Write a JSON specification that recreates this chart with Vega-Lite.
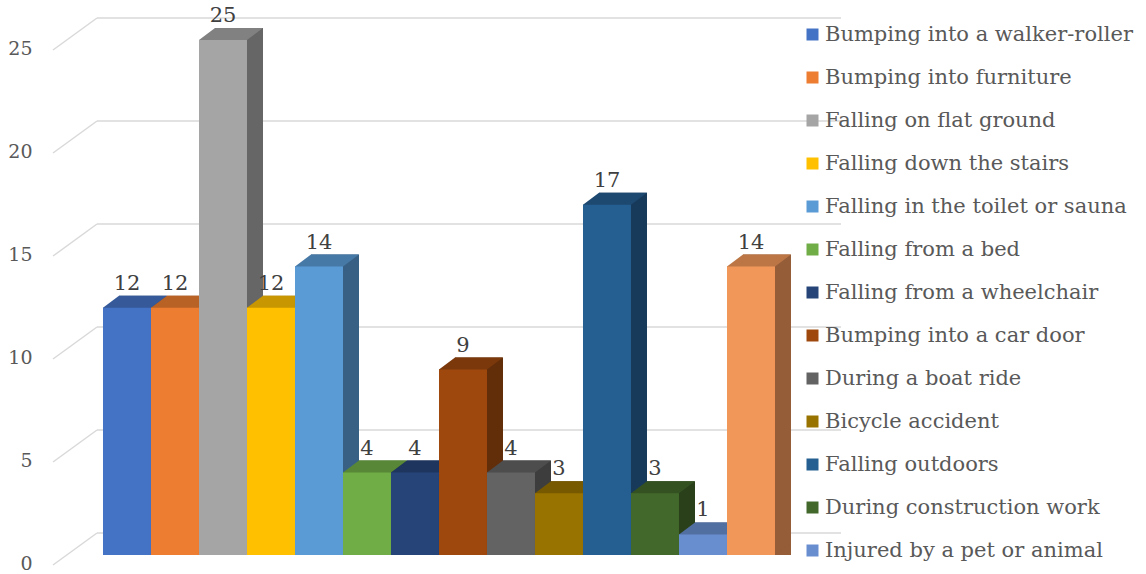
{
  "$schema": "https://vega.github.io/schema/vega-lite/v6.json",
  "width": 744,
  "height": 515,
  "autosize": {"type": "none"},
  "padding": {"left": 97, "top": 40, "right": 305, "bottom": 19},
  "background": "white",
  "config": {"view": {"stroke": null}, "font": "DejaVu Serif"},
  "datasets": {
    "falls": [
      {"cat": "Bumping into a walker-roller", "n": 12},
      {"cat": "Bumping into furniture", "n": 12},
      {"cat": "Falling on flat ground", "n": 25},
      {"cat": "Falling down the stairs", "n": 12},
      {"cat": "Falling in the toilet or sauna", "n": 14},
      {"cat": "Falling from a bed", "n": 4},
      {"cat": "Falling from a wheelchair", "n": 4},
      {"cat": "Bumping into a car door", "n": 9},
      {"cat": "During a boat ride", "n": 4},
      {"cat": "Bicycle accident", "n": 3},
      {"cat": "Falling outdoors", "n": 17},
      {"cat": "During construction work", "n": 3},
      {"cat": "Injured by a pet or animal", "n": 1},
      {"cat": "Other", "n": 14}
    ],
    "ticks": [{"n": 0}, {"n": 5}, {"n": 10}, {"n": 15}, {"n": 20}, {"n": 25}]
  },
  "layer": [
    {
      "data": {"name": "ticks"},
      "mark": {"type": "rule", "color": "#d9d9d9", "strokeWidth": 1.5, "yOffset": -22},
      "encoding": {
        "y": {
          "field": "n", "type": "quantitative",
          "scale": {"domain": [0, 25], "nice": false, "zero": true},
          "axis": {
            "title": null, "values": [0, 5, 10, 15, 20, 25], "domain": false, "ticks": false, "tickSize": 0, "grid": false,
            "offset": 61, "labelPadding": 4, "labelOffset": 14, "labelBaseline": "alphabetic",
            "labelFont": "DejaVu Serif", "labelFontSize": 19, "labelColor": "#595959"
          }
        }
      }
    },
    {
      "data": {"name": "ticks"},
      "mark": {"type": "rule", "color": "#d9d9d9", "strokeWidth": 1.5, "xOffset": -74, "x2Offset": -30, "yOffset": 10, "y2Offset": -22},
      "encoding": {
        "x": {
          "datum": "Bumping into a walker-roller", "type": "nominal", "axis": null,
          "scale": {"domain": ["Bumping into a walker-roller", "Bumping into furniture", "Falling on flat ground", "Falling down the stairs", "Falling in the toilet or sauna", "Falling from a bed", "Falling from a wheelchair", "Bumping into a car door", "During a boat ride", "Bicycle accident", "Falling outdoors", "During construction work", "Injured by a pet or animal", "Other"], "paddingInner": 0, "paddingOuter": 0.75, "align": 0.0833}
        },
        "x2": {"datum": "Bumping into a walker-roller"},
        "y": {
          "field": "n", "type": "quantitative",
          "axis": {
            "title": null, "values": [0, 5, 10, 15, 20, 25], "domain": false, "ticks": false, "tickSize": 0, "grid": false,
            "offset": 61, "labelPadding": 4, "labelOffset": 14, "labelBaseline": "alphabetic",
            "labelFont": "DejaVu Serif", "labelFontSize": 19, "labelColor": "#595959"
          }
        },
        "y2": {"field": "n"}
      }
    },
    {
      "data": {"name": "falls"},
      "encoding": {
        "x": {
          "field": "cat", "type": "nominal", "axis": null,
          "scale": {"domain": ["Bumping into a walker-roller", "Bumping into furniture", "Falling on flat ground", "Falling down the stairs", "Falling in the toilet or sauna", "Falling from a bed", "Falling from a wheelchair", "Bumping into a car door", "During a boat ride", "Bicycle accident", "Falling outdoors", "During construction work", "Injured by a pet or animal", "Other"], "paddingInner": 0, "paddingOuter": 0.75, "align": 0.0833}
        },
        "y": {
          "field": "n", "type": "quantitative", "stack": null,
          "axis": {
            "title": null, "values": [0, 5, 10, 15, 20, 25], "domain": false, "ticks": false, "tickSize": 0, "grid": false,
            "offset": 61, "labelPadding": 4, "labelOffset": 14, "labelBaseline": "alphabetic",
            "labelFont": "DejaVu Serif", "labelFontSize": 19, "labelColor": "#595959"
          }
        }
      },
      "resolve": {"scale": {"fill": "independent"}},
      "layer": [
        {
          "mark": {"type": "bar", "xOffset": 16, "x2Offset": 16, "yOffset": -12, "y2Offset": -12},
          "encoding": {
            "fill": {"field": "cat", "type": "nominal", "legend": null,
              "scale": {"domain": ["Bumping into a walker-roller", "Bumping into furniture", "Falling on flat ground", "Falling down the stairs", "Falling in the toilet or sauna", "Falling from a bed", "Falling from a wheelchair", "Bumping into a car door", "During a boat ride", "Bicycle accident", "Falling outdoors", "During construction work", "Injured by a pet or animal", "Other"],
                "range": ["#2A477A", "#934E1E", "#666666", "#9E7700", "#386084", "#456B2C", "#182A4A", "#622D09", "#3D3D3D", "#5F4700", "#173A5A", "#2A401B", "#415881", "#955E38"]}}
          }
        },
        {
          "mark": {"type": "point", "shape": "M24,-12L40,-12L24,0Z", "size": 4, "filled": true, "opacity": 1, "strokeWidth": 0},
          "encoding": {
            "y": {"datum": 0, "type": "quantitative"},
            "fill": {"field": "cat", "type": "nominal", "legend": null,
              "scale": {"domain": ["Bumping into a walker-roller", "Bumping into furniture", "Falling on flat ground", "Falling down the stairs", "Falling in the toilet or sauna", "Falling from a bed", "Falling from a wheelchair", "Bumping into a car door", "During a boat ride", "Bicycle accident", "Falling outdoors", "During construction work", "Injured by a pet or animal", "Other"],
                "range": ["#2A477A", "#934E1E", "#666666", "#9E7700", "#386084", "#456B2C", "#182A4A", "#622D09", "#3D3D3D", "#5F4700", "#173A5A", "#2A401B", "#415881", "#955E38"]}}
          }
        },
        {
          "mark": {"type": "point", "shape": "M-24,2L24,2L24,0L40,-12L-8,-12L-24,0Z", "size": 4, "filled": true, "opacity": 1, "strokeWidth": 0},
          "encoding": {
            "fill": {"field": "cat", "type": "nominal", "legend": null,
              "scale": {"domain": ["Bumping into a walker-roller", "Bumping into furniture", "Falling on flat ground", "Falling down the stairs", "Falling in the toilet or sauna", "Falling from a bed", "Falling from a wheelchair", "Bumping into a car door", "During a boat ride", "Bicycle accident", "Falling outdoors", "During construction work", "Injured by a pet or animal", "Other"],
                "range": ["#355999", "#B96226", "#818181", "#C79600", "#4779A6", "#578737", "#1E355E", "#7B380B", "#4D4D4D", "#775A00", "#1D4971", "#345122", "#526FA2", "#BC7646"]}}
          }
        },
        {
          "mark": {"type": "bar"},
          "encoding": {
            "color": {"field": "cat", "type": "nominal",
              "scale": {"domain": ["Bumping into a walker-roller", "Bumping into furniture", "Falling on flat ground", "Falling down the stairs", "Falling in the toilet or sauna", "Falling from a bed", "Falling from a wheelchair", "Bumping into a car door", "During a boat ride", "Bicycle accident", "Falling outdoors", "During construction work", "Injured by a pet or animal", "Other"],
                "range": ["#4472C4", "#ED7D31", "#A5A5A5", "#FFC000", "#5B9BD5", "#70AD47", "#264478", "#9E480E", "#636363", "#997300", "#255E91", "#43682B", "#698ED0", "#F1975A"]},
              "legend": {
                "title": null, "orient": "none", "legendX": 705, "legendY": -16, "padding": 0,
                "values": ["Bumping into a walker-roller", "Bumping into furniture", "Falling on flat ground", "Falling down the stairs", "Falling in the toilet or sauna", "Falling from a bed", "Falling from a wheelchair", "Bumping into a car door", "During a boat ride", "Bicycle accident", "Falling outdoors", "During construction work", "Injured by a pet or animal"],
                "symbolType": "square", "symbolSize": 144, "symbolStrokeWidth": 0,
                "labelFont": "DejaVu Serif", "labelFontSize": 21, "labelColor": "#595959", "labelLimit": 400,
                "labelOffset": 2, "rowPadding": 21
              }
            }
          }
        },
        {
          "mark": {"type": "text", "dy": -18, "baseline": "alphabetic", "align": "center", "font": "DejaVu Serif", "fontSize": 21, "color": "#404040"},
          "encoding": {"text": {"field": "n", "type": "quantitative"}}
        }
      ]
    }
  ]
}
